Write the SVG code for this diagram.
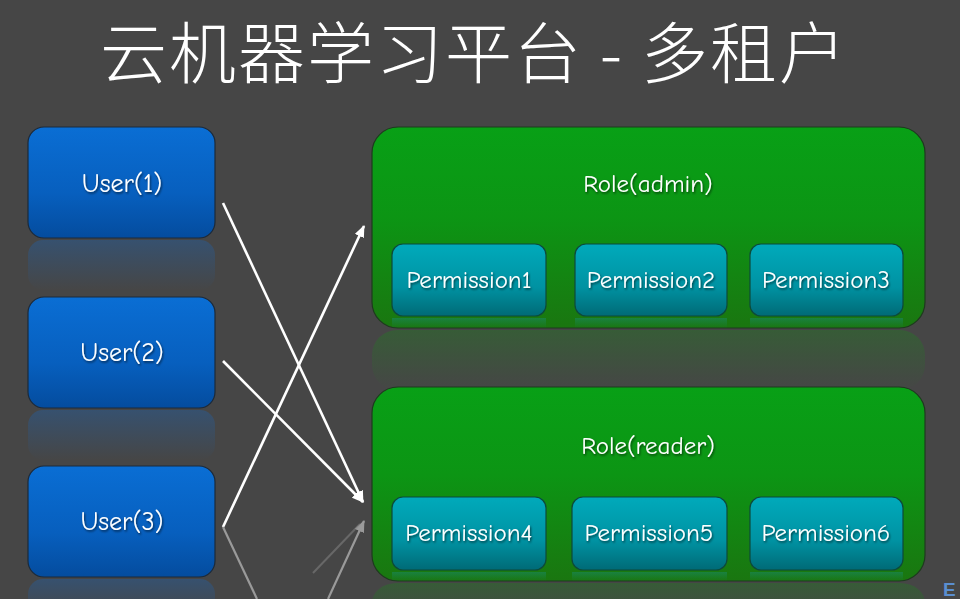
<svg xmlns="http://www.w3.org/2000/svg" width="960" height="599" viewBox="0 0 960 599">
<defs>
<linearGradient id="gUser" x1="0" y1="0" x2="0" y2="1">
<stop offset="0" stop-color="#0a6ed4"/><stop offset="0.6" stop-color="#075fbe"/><stop offset="1" stop-color="#044c9e"/>
</linearGradient>
<linearGradient id="gRole" x1="0" y1="0" x2="0" y2="1">
<stop offset="0" stop-color="#08a016"/><stop offset="0.45" stop-color="#0c9514"/><stop offset="1" stop-color="#1a7610"/>
</linearGradient>
<linearGradient id="gPerm" x1="0" y1="0" x2="0" y2="1">
<stop offset="0" stop-color="#00aabb"/><stop offset="0.6" stop-color="#0092a2"/><stop offset="1" stop-color="#006a76"/>
</linearGradient>
<linearGradient id="rUser" x1="0" y1="0" x2="0" y2="1">
<stop offset="0" stop-color="#2a5a90" stop-opacity="0.55"/><stop offset="1" stop-color="#2a5a90" stop-opacity="0"/>
</linearGradient>
<linearGradient id="rRole" x1="0" y1="0" x2="0" y2="1">
<stop offset="0" stop-color="#2d6a2d" stop-opacity="0.6"/><stop offset="1" stop-color="#2d6a2d" stop-opacity="0"/>
</linearGradient>
<linearGradient id="rPerm" x1="0" y1="0" x2="0" y2="1">
<stop offset="0" stop-color="#1a8a70" stop-opacity="0.5"/><stop offset="1" stop-color="#1a8a70" stop-opacity="0"/>
</linearGradient>
<filter id="ts" x="-10%" y="-20%" width="120%" height="150%">
<feDropShadow dx="1" dy="1.5" stdDeviation="0.8" flood-color="#000" flood-opacity="0.6"/>
</filter>
<marker id="ah" viewBox="0 0 12 10" refX="11" refY="5" markerWidth="12" markerHeight="10" markerUnits="userSpaceOnUse" orient="auto">
<path d="M0,0 L12,5 L0,10 z" fill="#ffffff"/>
</marker>
<marker id="ahg" viewBox="0 0 12 10" refX="11" refY="5" markerWidth="12" markerHeight="10" markerUnits="userSpaceOnUse" orient="auto">
<path d="M0,0 L12,5 L0,10 z" fill="#9a9a9a"/>
</marker>
</defs>
<style>
.lbl{font-family:"Comic Neue","DejaVu Sans","Liberation Sans",sans-serif;font-size:25px;fill:#ffffff;text-anchor:middle;filter:url(#ts)}
.ulbl{font-size:26px}
.user{fill:url(#gUser);stroke:#1c2a3a;stroke-width:1.2}
.role{fill:url(#gRole);stroke:#1e3a1e;stroke-width:1.2}
.perm{fill:url(#gPerm);stroke:#0d4a3a;stroke-width:1.2}
.conn{stroke:#ffffff;stroke-width:2.6;fill:none}
.refl{stroke:#9a9a9a;stroke-width:2.2;fill:none}
</style>
<rect width="960" height="599" fill="#464646"/>
<text x="100" y="78" font-family="'Noto Sans CJK SC','Noto Sans CJK JP',sans-serif" font-size="67" letter-spacing="2" fill="#ffffff" font-weight="300">云机器学习平台 - 多租户</text>

<g id="reflections">
<rect x="28" y="240" width="187" height="50" rx="15" fill="url(#rUser)"/>
<rect x="28" y="410" width="187" height="50" rx="15" fill="url(#rUser)"/>
<rect x="28" y="579" width="187" height="40" rx="15" fill="url(#rUser)"/>
<rect x="372" y="330" width="553" height="60" rx="25" fill="url(#rRole)"/>
<rect x="372" y="583" width="553" height="40" rx="25" fill="url(#rRole)"/>
</g>

<g id="user1"><rect class="user" x="28" y="127" width="187" height="111" rx="16"/><text class="lbl ulbl" x="122" y="192">User(1)</text></g>
<g id="user2"><rect class="user" x="28" y="297" width="187" height="111" rx="16"/><text class="lbl ulbl" x="122" y="361">User(2)</text></g>
<g id="user3"><rect class="user" x="28" y="466" width="187" height="111" rx="16"/><text class="lbl ulbl" x="122" y="530">User(3)</text></g>

<g id="role-admin">
<rect class="role" x="372" y="127" width="553" height="201" rx="26"/>
<text class="lbl" x="648" y="192">Role(admin)</text>
<rect x="392" y="318" width="154" height="10" fill="url(#rPerm)"/>
<rect x="575" y="318" width="152" height="10" fill="url(#rPerm)"/>
<rect x="750" y="318" width="153" height="10" fill="url(#rPerm)"/>
</g>
<g id="perm1"><rect class="perm" x="392" y="244" width="154" height="72" rx="11"/><text class="lbl" x="469" y="288">Permission1</text></g>
<g id="perm2"><rect class="perm" x="575" y="244" width="152" height="72" rx="11"/><text class="lbl" x="651" y="288">Permission2</text></g>
<g id="perm3"><rect class="perm" x="750" y="244" width="153" height="72" rx="11"/><text class="lbl" x="826" y="288">Permission3</text></g>

<g id="role-reader">
<rect class="role" x="372" y="387" width="553" height="194" rx="26"/>
<text class="lbl" x="648" y="454">Role(reader)</text>
<rect x="392" y="572" width="154" height="9" fill="url(#rPerm)"/>
<rect x="572" y="572" width="155" height="9" fill="url(#rPerm)"/>
<rect x="750" y="572" width="153" height="9" fill="url(#rPerm)"/>
</g>
<g id="perm4"><rect class="perm" x="392" y="497" width="154" height="73" rx="11"/><text class="lbl" x="469" y="541">Permission4</text></g>
<g id="perm5"><rect class="perm" x="572" y="497" width="155" height="73" rx="11"/><text class="lbl" x="649" y="541">Permission5</text></g>
<g id="perm6"><rect class="perm" x="750" y="497" width="153" height="73" rx="11"/><text class="lbl" x="826" y="541">Permission6</text></g>

<g id="connectors">
<line class="conn" x1="223" y1="203" x2="363" y2="502" marker-end="url(#ah)"/>
<line class="conn" x1="223" y1="361" x2="363" y2="502" marker-end="url(#ah)"/>
<line class="conn" x1="223" y1="527" x2="364" y2="226" marker-end="url(#ah)"/>
<line class="refl" x1="223" y1="527" x2="257" y2="599"/>
<line class="refl" x1="328" y1="599" x2="364" y2="521" marker-end="url(#ahg)"/>
<line x1="313" y1="573" x2="360" y2="524" stroke="#8a8a8a" stroke-width="2" stroke-opacity="0.5"/>
</g>
<text x="943" y="596" font-family="'Liberation Sans',sans-serif" font-size="19" font-weight="bold" fill="#5a8ed0">E</text>
</svg>
